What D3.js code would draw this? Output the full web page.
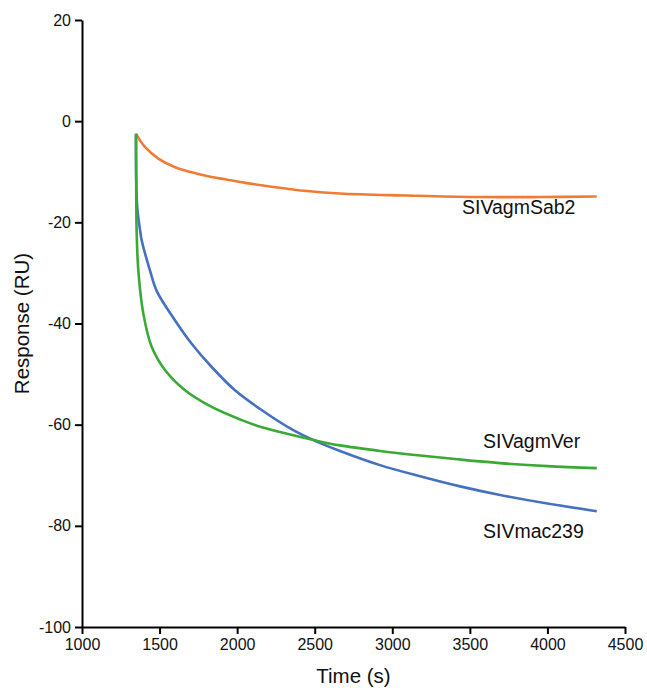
<!DOCTYPE html>
<html>
<head>
<meta charset="utf-8">
<script src="https://cdn.jsdelivr.net/npm/d3@7"></script>
<style>
  body { margin: 0; background: #fff; }
  svg text { font-family: "Liberation Sans", Arial, sans-serif; fill: #111; }
</style>
</head>
<body>
<svg id="chart" width="647" height="688"></svg>
<script>
(function () {

    // values (time s, response RU)
    var sab2Time = [1348, 1406, 1492, 1600, 1707, 1814, 1922, 2051, 2233, 2449, 2663, 3093, 3523, 3953, 4318];
    var sab2Resp = [-2.5, -5.1, -7.4, -9.1, -10.1, -10.9, -11.5, -12.2, -13.0, -13.8, -14.3, -14.7, -15.0, -15.0, -14.9];

    var macTime = [1348, 1355, 1374, 1385, 1438, 1482, 1600, 1707, 1836, 1986, 2148, 2362, 2502, 2663, 2921, 3179, 3437, 3695, 4000, 4318];
    var macResp = [-2.5, -16.6, -21.5, -23.6, -29.5, -33.6, -39.4, -44.0, -48.6, -53.2, -56.9, -61.1, -63.2, -65.2, -68.0, -70.2, -72.2, -73.9, -75.6, -77.1];

    var verTime = [1348, 1350, 1352, 1363, 1395, 1449, 1535, 1664, 1836, 2030, 2148, 2362, 2502, 2663, 2921, 3179, 3437, 3695, 4000, 4318];
    var verResp = [-2.5, -16.6, -21.6, -29.5, -38.0, -44.6, -49.2, -53.2, -56.5, -59.1, -60.4, -62.1, -63.1, -64.1, -65.2, -66.1, -66.9, -67.6, -68.2, -68.6];

    var xTicks = [1000, 1500, 2000, 2500, 3000, 3500, 4000, 4500];
    var yTicks = [20, 0, -20, -40, -60, -80, -100];

    var series = [
        { name: "SIVagmSab2", time: sab2Time, resp: sab2Resp, color: "#f07b33", lx: 462, ly: -18.4 },
        { name: "SIVmac239", time: macTime, resp: macResp, color: "#4571c0", lx: 483, ly: -82.4 },
        { name: "SIVagmVer", time: verTime, resp: verResp, color: "#3aa935", lx: 483, ly: -64.6 }
    ];

    var svg = d3.select("#chart");
    var margin = { left: 82, top: 20, right: 22, bottom: 61 };
    var width = +svg.attr("width"), height = +svg.attr("height");

    var x = d3.scaleLinear().domain([1000, 4500]).range([margin.left, width - margin.right]);
    var y = d3.scaleLinear().domain([-100, 20]).range([height - margin.bottom, margin.top]);

    var line = d3.line()
        .x(function (d) { return x(d[0]); })
        .y(function (d) { return y(d[1]); })
        .curve(d3.curveCatmullRom.alpha(0.5));

    svg.append("g")
        .selectAll("path")
        .data(series)
        .enter().append("path")
        .attr("fill", "none")
        .attr("stroke", function (d) { return d.color; })
        .attr("stroke-width", 2.6)
        .attr("stroke-linejoin", "round")
        .attr("d", function (d) {
            return line(d.time.map(function (t, i) { return [t, d.resp[i]]; }));
        });

    svg.append("g")
        .selectAll("text")
        .data(series)
        .enter().append("text")
        .attr("x", function (d) { return d.lx; })
        .attr("y", function (d) { return y(d.ly); })
        .style("font-size", "19.5px")
        .text(function (d) { return d.name; });

    var plain = function (d) { return String(d); };
    var xAxis = d3.axisBottom(x).tickValues(xTicks).tickFormat(plain).tickSize(7).tickSizeOuter(0).tickPadding(5);
    var yAxis = d3.axisLeft(y).tickValues(yTicks).tickFormat(plain).tickSize(7).tickSizeOuter(0).tickPadding(4);

    var gx = svg.append("g")
        .attr("transform", "translate(0," + (height - margin.bottom) + ")")
        .call(xAxis);
    var gy = svg.append("g")
        .attr("transform", "translate(" + margin.left + ",0)")
        .call(yAxis);

    [gx, gy].forEach(function (g) {
        g.selectAll("path, line").attr("stroke", "#000").attr("stroke-width", 2);
        g.selectAll("text").style("font-size", "16px").attr("fill", "#111");
    });

    svg.append("text")
        .attr("x", (x(1000) + x(4500)) / 2)
        .attr("y", 683)
        .attr("text-anchor", "middle")
        .style("font-size", "20.5px")
        .text("Time (s)");

    svg.append("text")
        .attr("transform", "translate(29," + y(-40) + ") rotate(-90)")
        .attr("text-anchor", "middle")
        .style("font-size", "20.5px")
        .text("Response (RU)");
})();
</script>
</body>
</html>
